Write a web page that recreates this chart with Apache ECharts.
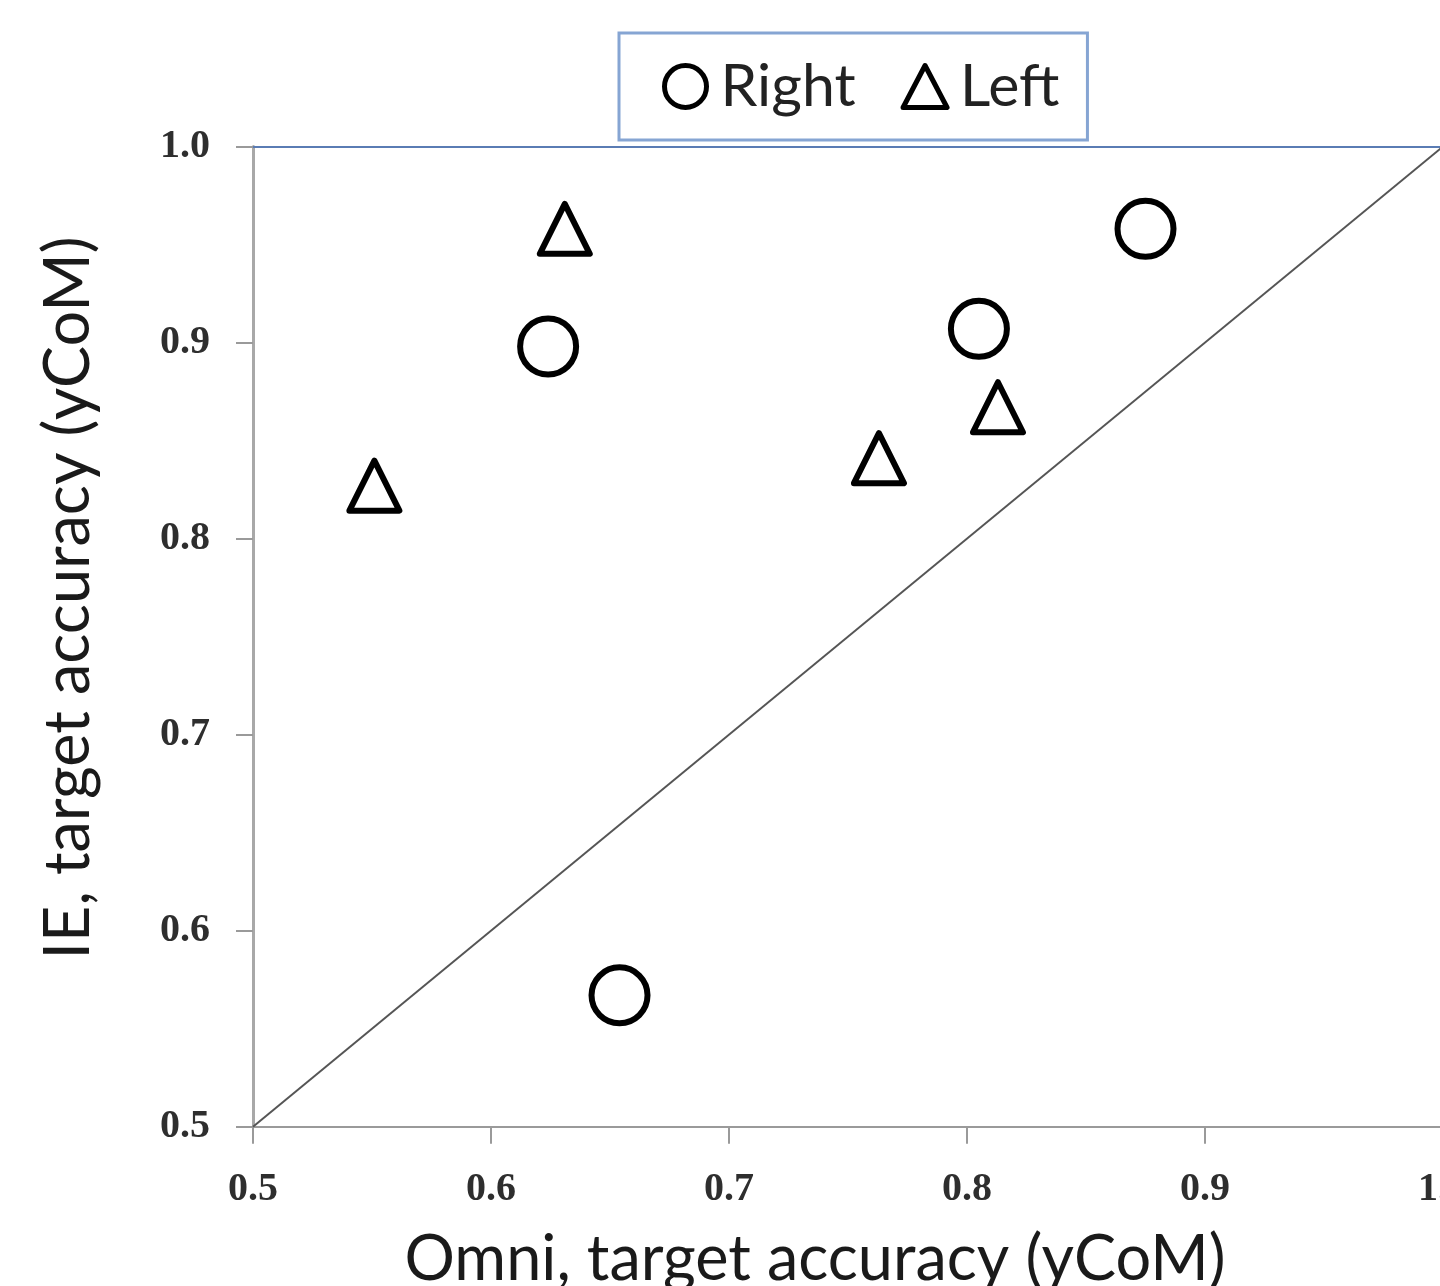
<!DOCTYPE html>
<html>
<head>
<meta charset="utf-8">
<script src="https://cdn.jsdelivr.net/npm/echarts@6/dist/echarts.min.js"></script>
<style>
html,body{margin:0;padding:0;background:#fff;}
#chart{width:1440px;height:1286px;}
</style>
</head>
<body>
<div id="chart"></div>
<script>
// Data
const rightOmni = [0.624, 0.654, 0.805, 0.875];
const rightIE   = [0.898, 0.567, 0.907, 0.958];
const leftOmni  = [0.551, 0.631, 0.763, 0.813];
const leftIE    = [0.827, 0.958, 0.841, 0.867];
const diagonal  = [0.5, 1.0];
const xTitle = 'Omni, target accuracy (yCoM)';
const yTitle = 'IE, target accuracy (yCoM)';
const seriesNames = ['Right', 'Left'];

const pairs = (xs, ys) => xs.map((x, i) => [x, ys[i]]);

const chart = echarts.init(document.getElementById('chart'), null, {renderer: 'canvas'});

const tickLabel = {
  fontFamily: 'Liberation Serif', fontWeight: 'bold', fontSize: 40, color: '#2e2e2e',
  formatter: v => v.toFixed(1)
};

chart.setOption({
  animation: false,
  backgroundColor: '#fff',
  grid: {left: 253, top: 146.5, width: 1190, height: 980.2, containLabel: false, outerBoundsMode: 'none'},
  legend: {
    data: seriesNames,
    left: 619, top: 33,
    orient: 'horizontal',
    padding: [24, 28, 24, 43],
    itemGap: 45,
    itemWidth: 44, itemHeight: 42,
    borderColor: '#86a5d3', borderWidth: 3,
    backgroundColor: '#fff',
    itemStyle: {color: '#fff', borderColor: '#000', borderWidth: 5},
    textStyle: {fontFamily: 'Lato', fontSize: 59, color: '#222', padding: [0, 0, 0, 8]}
  },
  xAxis: [{
    type: 'value', min: 0.5, max: 1.0, interval: 0.1,
    position: 'bottom',
    axisLine: {show: true, onZero: false, lineStyle: {color: '#9a9a9a', width: 2}},
    axisTick: {show: true, length: 17, lineStyle: {color: '#9a9a9a', width: 2}},
    axisLabel: Object.assign({margin: 43}, tickLabel),
    splitLine: {show: false}
  }, {
    type: 'value', min: 0.5, max: 1.0, position: 'top',
    axisLine: {show: true, onZero: false, lineStyle: {color: '#5a7cb4', width: 2}},
    axisTick: {show: false}, axisLabel: {show: false}, splitLine: {show: false}
  }],
  yAxis: {
    type: 'value', min: 0.5, max: 1.0, interval: 0.1,
    axisLine: {show: true, onZero: false, lineStyle: {color: '#a8a8a8', width: 3}},
    axisTick: {show: true, length: 17, lineStyle: {color: '#9a9a9a', width: 2}},
    axisLabel: Object.assign({margin: 43}, tickLabel),
    splitLine: {show: false}
  },
  graphic: [{
    type: 'text', x: 815, y: 1260, silent: true,
    style: {text: xTitle, fontFamily: 'Lato', fontSize: 63, fill: '#1a1a1a',
            textAlign: 'center', textVerticalAlign: 'middle'}
  }, {
    type: 'text', x: 69, y: 598, rotation: Math.PI / 2, silent: true,
    style: {text: yTitle, fontFamily: 'Lato', fontSize: 63, fill: '#1a1a1a',
            textAlign: 'center', textVerticalAlign: 'middle'}
  }],
  series: [{
    type: 'line', name: 'diag', data: diagonal.map(v => [v, v]),
    showSymbol: false, symbol: 'none', silent: true, z: 1,
    lineStyle: {color: '#555', width: 2}
  }, {
    type: 'scatter', name: seriesNames[0], data: pairs(rightOmni, rightIE),
    symbol: 'circle', symbolSize: 56, z: 3,
    itemStyle: {color: '#fff', borderColor: '#000', borderWidth: 6, opacity: 1}
  }, {
    type: 'scatter', name: seriesNames[1], data: pairs(leftOmni, leftIE),
    symbol: 'triangle', symbolSize: 50, z: 3,
    itemStyle: {color: '#fff', borderColor: '#000', borderWidth: 6, borderJoin: 'round', opacity: 1}
  }]
});
</script>
</body>
</html>
